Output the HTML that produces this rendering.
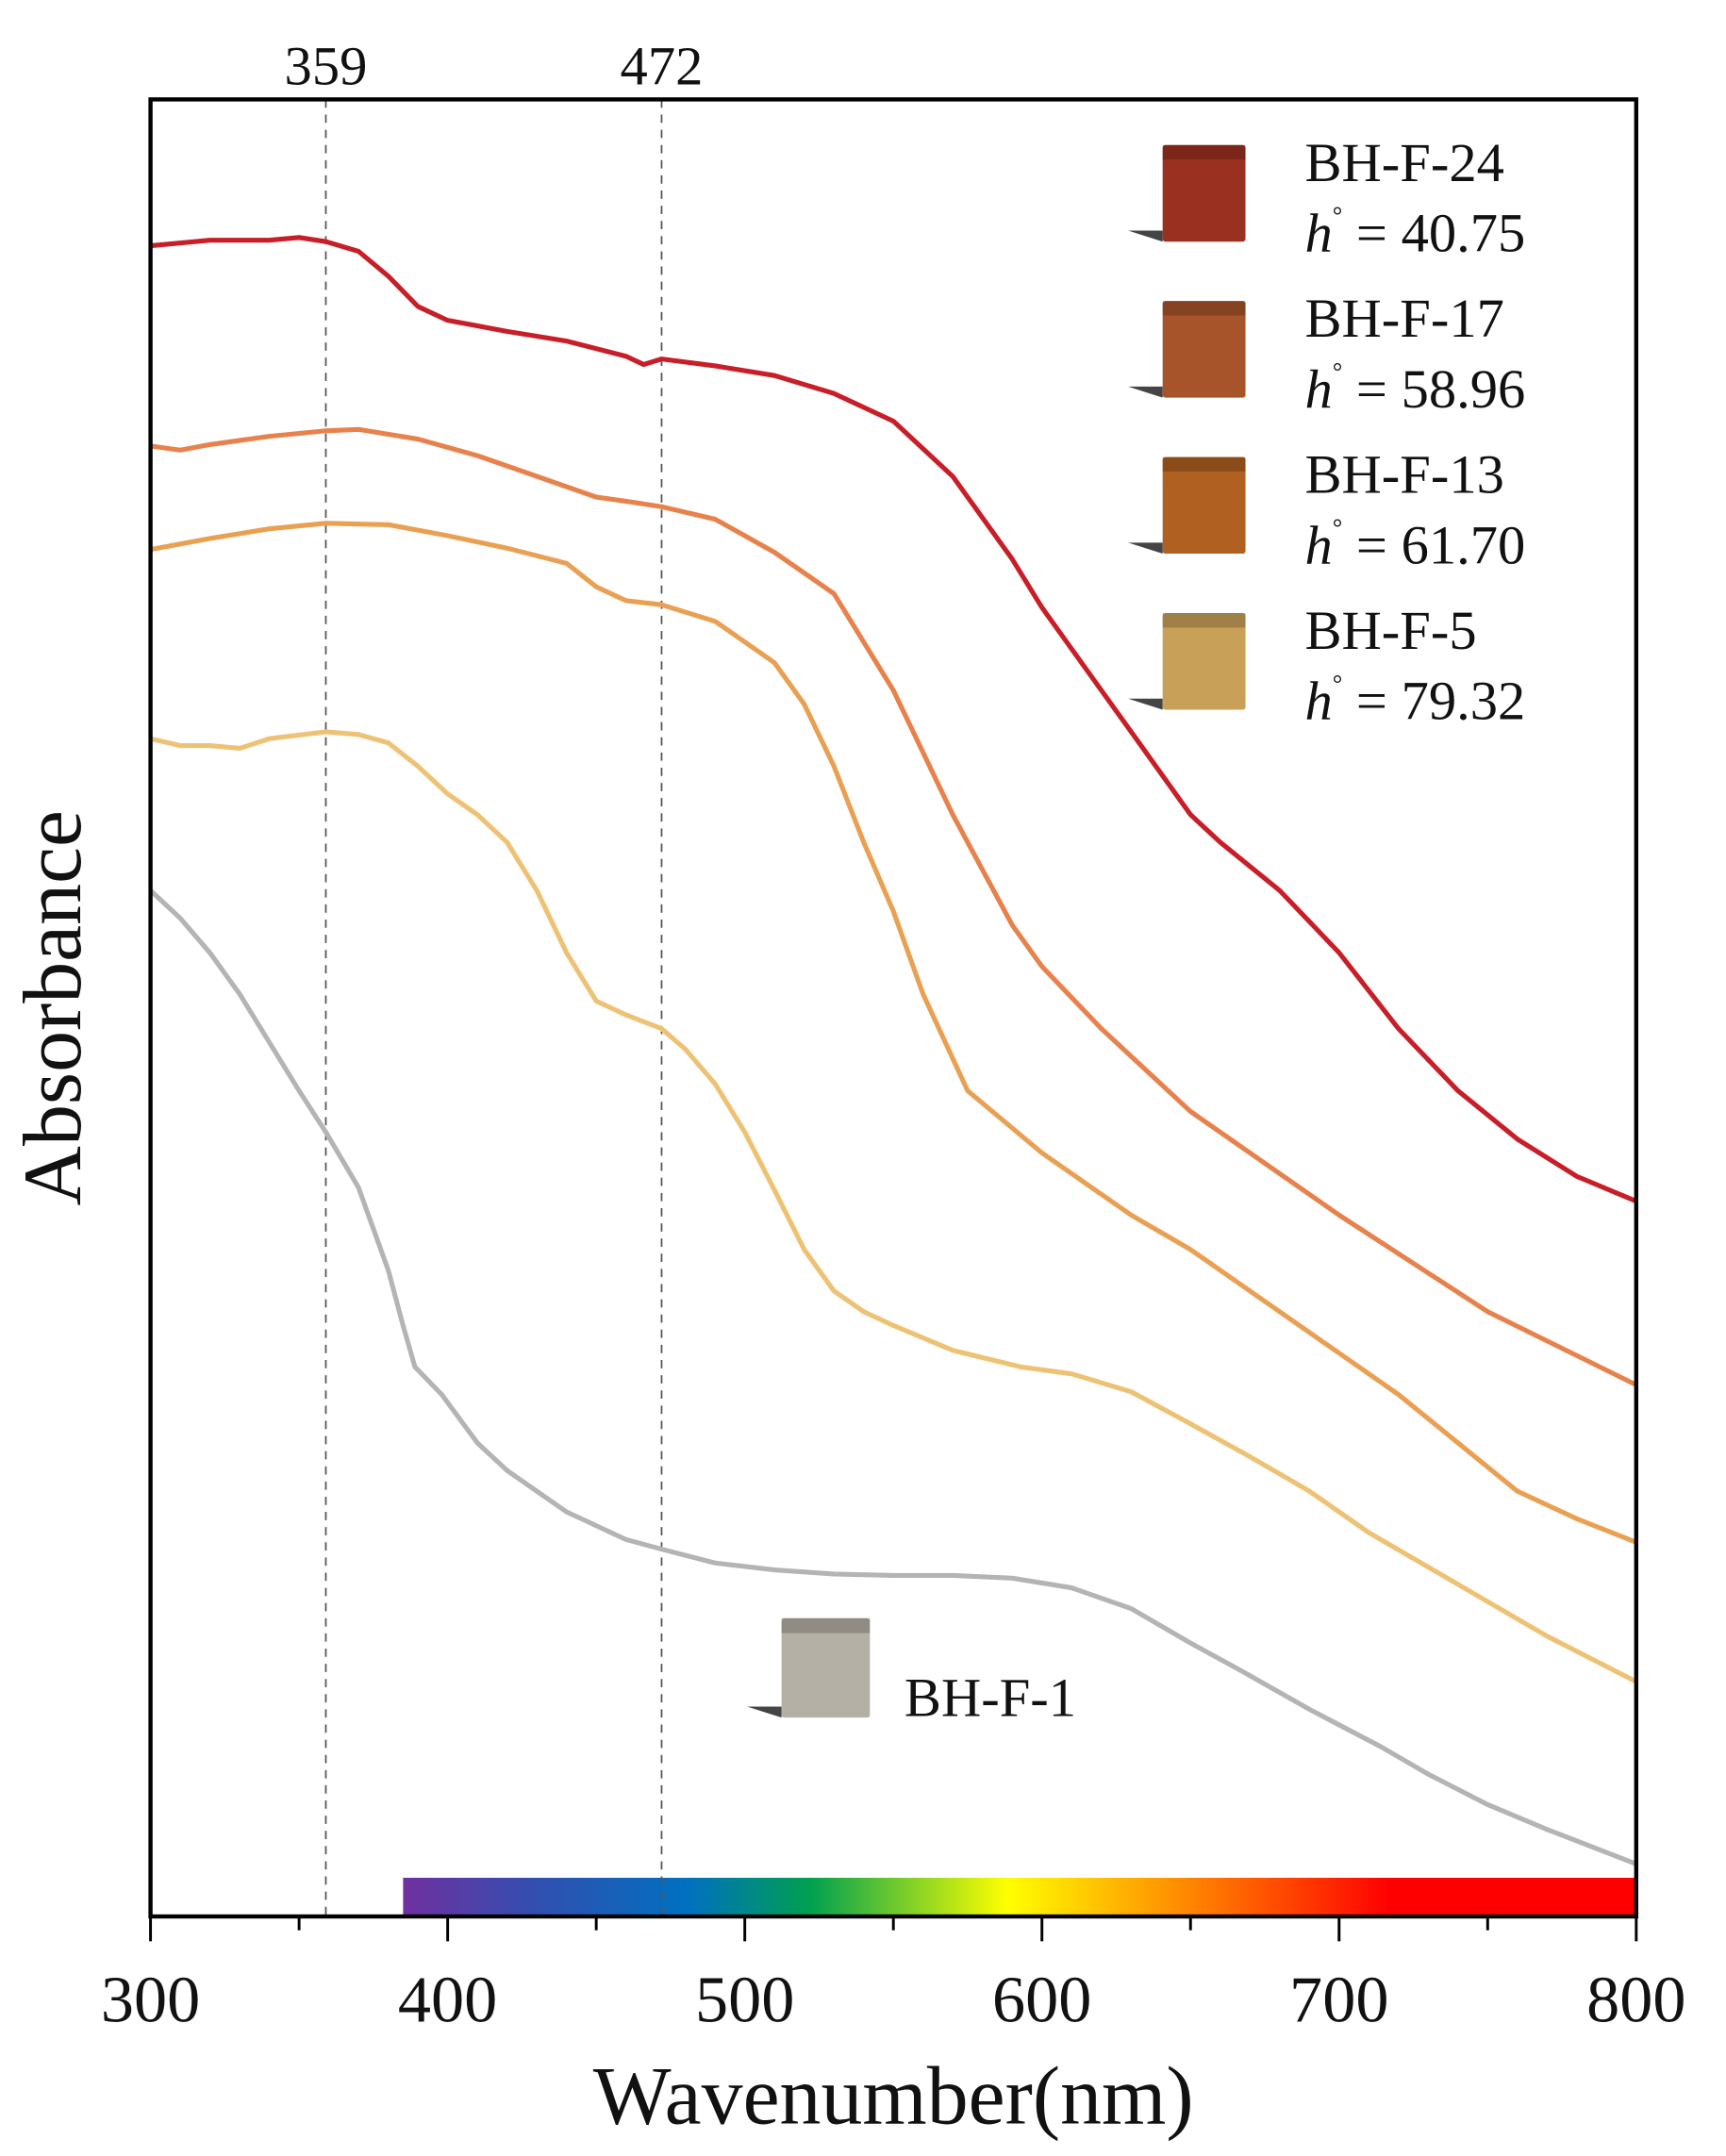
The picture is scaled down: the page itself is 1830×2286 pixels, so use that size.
<!DOCTYPE html>
<html><head><meta charset="utf-8"><style>
html,body{margin:0;padding:0;background:#fff;}
svg{display:block;font-family:"Liberation Serif",serif;}
</style></head><body>
<svg id="chart" width="1830" height="2286" viewBox="0 0 1250 1561.5" xmlns="http://www.w3.org/2000/svg">
<defs>
<linearGradient id="spec" x1="0" x2="1" y1="0" y2="0">
<stop offset="0" stop-color="#7030a0"/><stop offset="0.11" stop-color="#3050b0"/>
<stop offset="0.23" stop-color="#0070c0"/><stop offset="0.33" stop-color="#00a050"/>
<stop offset="0.49" stop-color="#ffff00"/><stop offset="0.63" stop-color="#ff8c00"/>
<stop offset="0.80" stop-color="#ff0000"/><stop offset="1" stop-color="#ff0000"/>
</linearGradient>
</defs>
<g id="marks"></g>
</svg>
<script>
const nmTicks=[300,400,500,600,700,800];
const refLines=[359,472];
const wl24=[300,320,340,350,359,370,380,390,400,420,440,460,466,472,490,510,530,550,570,590,600,610,630,650,660,680,700,720,740,760,780,800];
const ab24=[178,174,174,172,175,182,200,222,232,240,247,258,264,260,265,272,285,305,345,405,440,470,530,590,610,645,690,745,790,825,852,870];
const wl17=[300,310,320,340,359,370,390,410,430,450,460,472,490,510,530,550,570,590,600,620,650,700,750,800];
const ab17=[323,326,322,316,312,311,318,330,345,360,363,367,376,400,430,500,590,670,700,745,805,880,950,1003];
const wl13=[300,320,340,359,380,400,420,440,450,460,472,490,510,520,530,540,550,560,575,600,630,650,670,700,720,740,760,780,800];
const ab13=[398,390,383,379,380,388,397,408,425,435,438,450,480,510,555,610,660,720,790,835,880,905,935,980,1010,1045,1080,1100,1117];
const wl5=[300,310,320,330,340,359,370,380,390,400,410,420,430,440,450,460,472,480,490,500,510,520,530,540,550,570,593,610,630,649,670,690,710,730,750,770,800];
const ab5=[535,540,540,542,535,530,532,538,555,575,590,610,645,690,725,735,745,760,785,820,862,905,935,950,960,978,990,995,1008,1030,1055,1080,1110,1135,1160,1185,1218];
const wl1=[300,310,320,330,340,350,359,370,380,385,389,398,410,420,440,460,472,490,510,530,550,570,590,610,630,650,667,690,714,730,750,770,800];
const ab1=[645,665,690,720,755,790,820,860,920,960,990,1010,1045,1065,1095,1115,1122,1132,1137,1140,1141,1141,1143,1150,1165,1190,1210,1238,1265,1285,1307,1325,1350];
const L=109,R=1185,T=72,B=1388;
const xS=nm=>L+(nm-300)*(R-L)/500;
const yS=v=>B-v*(B-T);
const toAbs=p=>(B-p)/(B-T);
const NS='http://www.w3.org/2000/svg';
const g=document.getElementById('marks');
function mk(tag,attrs,parent){const e=document.createElementNS(NS,tag);for(const k in attrs)e.setAttribute(k,attrs[k]);(parent||g).appendChild(e);return e;}
let bar=mk('rect',{x:xS(385),y:1360,width:R-xS(385),height:B-1360,fill:'url(#spec)'});


refLines.forEach(v=>{
 let l=mk('line',{x1:xS(v),x2:xS(v),y1:T,y2:B,stroke:'#555','stroke-width':1.2,'stroke-dasharray':'6,5'});
 
 
 let t=mk('text',{x:xS(v),y:61,'text-anchor':'middle','font-size':40,fill:'#111'});t.textContent=v;
 
 
});
const series=[[wl24,ab24,'#c81e28','bh-f-24'],[wl17,ab17,'#e8824c','bh-f-17'],[wl13,ab13,'#eaa052','bh-f-13'],[wl5,ab5,'#eec274','bh-f-5'],[wl1,ab1,'#b4b4b4','bh-f-1']];
series.forEach(([w,a,c,n])=>{
 const d=w.map((v,i)=>(i?'L':'M')+xS(v).toFixed(1)+','+yS(toAbs(a[i])).toFixed(1)).join(' ');
 let p=mk('path',{d:d,fill:'none',stroke:c,'stroke-width':3.5,'stroke-linejoin':'round'});
 
 
});
let fr=mk('rect',{x:L,y:T,width:R-L,height:B-T,fill:'none',stroke:'#000','stroke-width':3});


for(let v=300;v<=800;v+=50){
 let tk=mk('line',{x1:xS(v),x2:xS(v),y1:B,y2:B+(v%100?10:18),stroke:'#000','stroke-width':2});
 
 
}
nmTicks.forEach(v=>{
 let t=mk('text',{x:xS(v),y:1464,'text-anchor':'middle','font-size':48,fill:'#111'});t.textContent=v;
 
 
});
let xt=mk('text',{x:647,y:1538,'text-anchor':'middle','font-size':60,fill:'#111'});xt.textContent='Wavenumber(nm)';


let yt=mk('text',{x:0,y:0,'text-anchor':'middle','font-size':60,fill:'#111',transform:'translate(58,730) rotate(-90)'});yt.textContent='Absorbance';


const legNames=['BH-F-24','BH-F-17','BH-F-13','BH-F-5'];
const legH=['40.75','58.96','61.70','79.32'];
const legCols=['#9a3020','#a8542a','#b06020','#c8a058'];
function cube(x,y,w,h,c,name){
 const grp=mk('g',{});
 
 
 mk('polygon',{points:`${x-25},${y+h-8} ${x},${y+h-8} ${x},${y+h} `,fill:'#444'},grp);
 mk('rect',{x:x,y:y,width:w,height:h,fill:c,rx:2},grp);
 mk('rect',{x:x,y:y,width:w,height:h*0.15,fill:'#000',opacity:0.2},grp);
}
legNames.forEach((n,i)=>{
 const y0=105+i*113;
 cube(842,y0,60,70,legCols[i],'legend-swatch-'+n.toLowerCase());
 let t=mk('text',{x:945,y:y0+26,'font-size':40,fill:'#111'});t.textContent=n;
 
 
 let h=mk('text',{x:945,y:y0+77,'font-size':40,fill:'#111'});
 h.innerHTML='<tspan font-style="italic">h</tspan><tspan font-size="18" dy="-20">°</tspan><tspan dy="20"> = '+legH[i]+'</tspan>';
 
 
});
cube(566,1172,64,72,'#b4b0a6','legend-swatch-bh-f-1');
let t1=mk('text',{x:655,y:1243,'font-size':40,fill:'#111'});t1.textContent='BH-F-1';


</script>
</body></html>
